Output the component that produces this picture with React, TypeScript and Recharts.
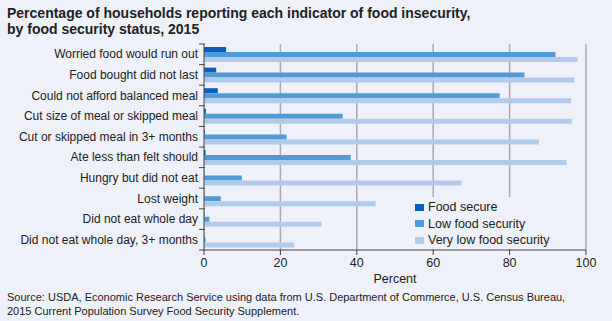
import React from "react";
import {
  BarChart,
  Bar,
  XAxis,
  YAxis,
  CartesianGrid,
} from "recharts";

const categories = [
  "Worried food would run out",
  "Food bought did not last",
  "Could not afford balanced meal",
  "Cut size of meal or skipped meal",
  "Cut or skipped meal in 3+ months",
  "Ate less than felt should",
  "Hungry but did not eat",
  "Lost weight",
  "Did not eat whole day",
  "Did not eat whole day, 3+ months",
];
const foodSecure = [5.8, 3.2, 3.6, 0.5, 0.2, 0.4, 0.1, 0.1, 0.1, 0.1];
const lowSecurity = [92.0, 83.9, 77.4, 36.3, 21.6, 38.4, 9.9, 4.4, 1.4, 0.4];
const veryLowSecurity = [97.8, 96.9, 96.1, 96.3, 87.7, 94.9, 67.4, 44.9, 30.8, 23.6];
const xTicks = [0, 20, 40, 60, 80, 100];

const BG = "#eef1f9";
const FONT = "'Liberation Sans', Arial, Helvetica, sans-serif";
const colors = { fs: "#0b5fbc", low: "#4f9ad7", vl: "#b2cbec" };

const data = categories.map((name, i) => ({
  name,
  fs: foodSecure[i],
  low: lowSecurity[i],
  vl: veryLowSecurity[i],
}));

const BAND = 206 / categories.length;

function CategoryTick(props: any) {
  const { x, y, payload, index } = props;
  const ax = x + 14;
  return (
    <g>
      <text x={x + 7} y={y} textAnchor="end" dominantBaseline="central" fontSize={12} fill="#222" fontFamily={FONT}>
        {payload.value}
      </text>
      <line x1={ax - 6} x2={ax} y1={y - BAND / 2} y2={y - BAND / 2} stroke="#444" />
      {index === categories.length - 1 && (
        <line x1={ax - 6} x2={ax} y1={y + BAND / 2} y2={y + BAND / 2} stroke="#444" />
      )}
    </g>
  );
}

const legendItems = [
  { key: "fs", label: "Food secure" },
  { key: "low", label: "Low food security" },
  { key: "vl", label: "Very low food security" },
];

function LegendBox() {
  return (
    <div style={{ position: "absolute", left: 395, top: 197, background: BG, width: 190, height: 52, paddingLeft: 20, paddingTop: 2, boxSizing: "border-box" }}>
      {legendItems.map((it) => (
        <div key={it.key} style={{ display: "flex", alignItems: "center", height: 16.5, fontFamily: FONT, fontSize: 12.5, color: "#222" }}>
          <span style={{ display: "inline-block", width: 9, height: 7, background: (colors as any)[it.key], marginRight: 4 }} />
          {it.label}
        </div>
      ))}
    </div>
  );
}

export default function App() {
  return (
    <div style={{ position: "absolute", left: 0, top: 0, width: 612, height: 321, background: BG, fontFamily: FONT, color: "#222" }}>
      <div style={{ position: "absolute", left: 7, top: 5, fontSize: 14, fontWeight: "bold", lineHeight: "16px" }}>
        Percentage of households reporting each indicator of food insecurity,
        <br />
        by food security status, 2015
      </div>
      <BarChart
        width={612}
        height={321}
        data={data}
        layout="vertical"
        margin={{ top: 44, right: 26, left: 0, bottom: 51 }}
        barCategoryGap={3}
        barGap={0}
      >
        <CartesianGrid horizontal={false} stroke="#aaaab3" strokeWidth={1.5} verticalValues={[20, 40, 60, 80, 100]} />
        <XAxis
          type="number"
          domain={[0, 100]}
          ticks={xTicks}
          height={20}
          tick={{ fontSize: 12.5, fill: "#222", fontFamily: FONT }}
          tickSize={5}
          tickMargin={3}
          stroke="#444"
          label={{ value: "Percent", position: "insideBottom", offset: -13, fontSize: 12.5, fill: "#222", fontFamily: FONT }}
        />
        <YAxis
          type="category"
          dataKey="name"
          width={204}
          tickLine={false}
          tick={<CategoryTick />}
          tickMargin={7}
          stroke="#444"
          interval={0}
        />
        <Bar dataKey="fs" name="Food secure" fill={colors.fs} isAnimationActive={false} />
        <Bar dataKey="low" name="Low food security" fill={colors.low} isAnimationActive={false} />
        <Bar dataKey="vl" name="Very low food security" fill={colors.vl} isAnimationActive={false} />
      </BarChart>
      <LegendBox />
      <div style={{ position: "absolute", left: 7, top: 290, fontSize: 11, lineHeight: "14px" }}>
        Source: USDA, Economic Research Service using data from U.S. Department of Commerce, U.S. Census Bureau,
        <br />
        2015 Current Population Survey Food Security Supplement.
      </div>
    </div>
  );
}
